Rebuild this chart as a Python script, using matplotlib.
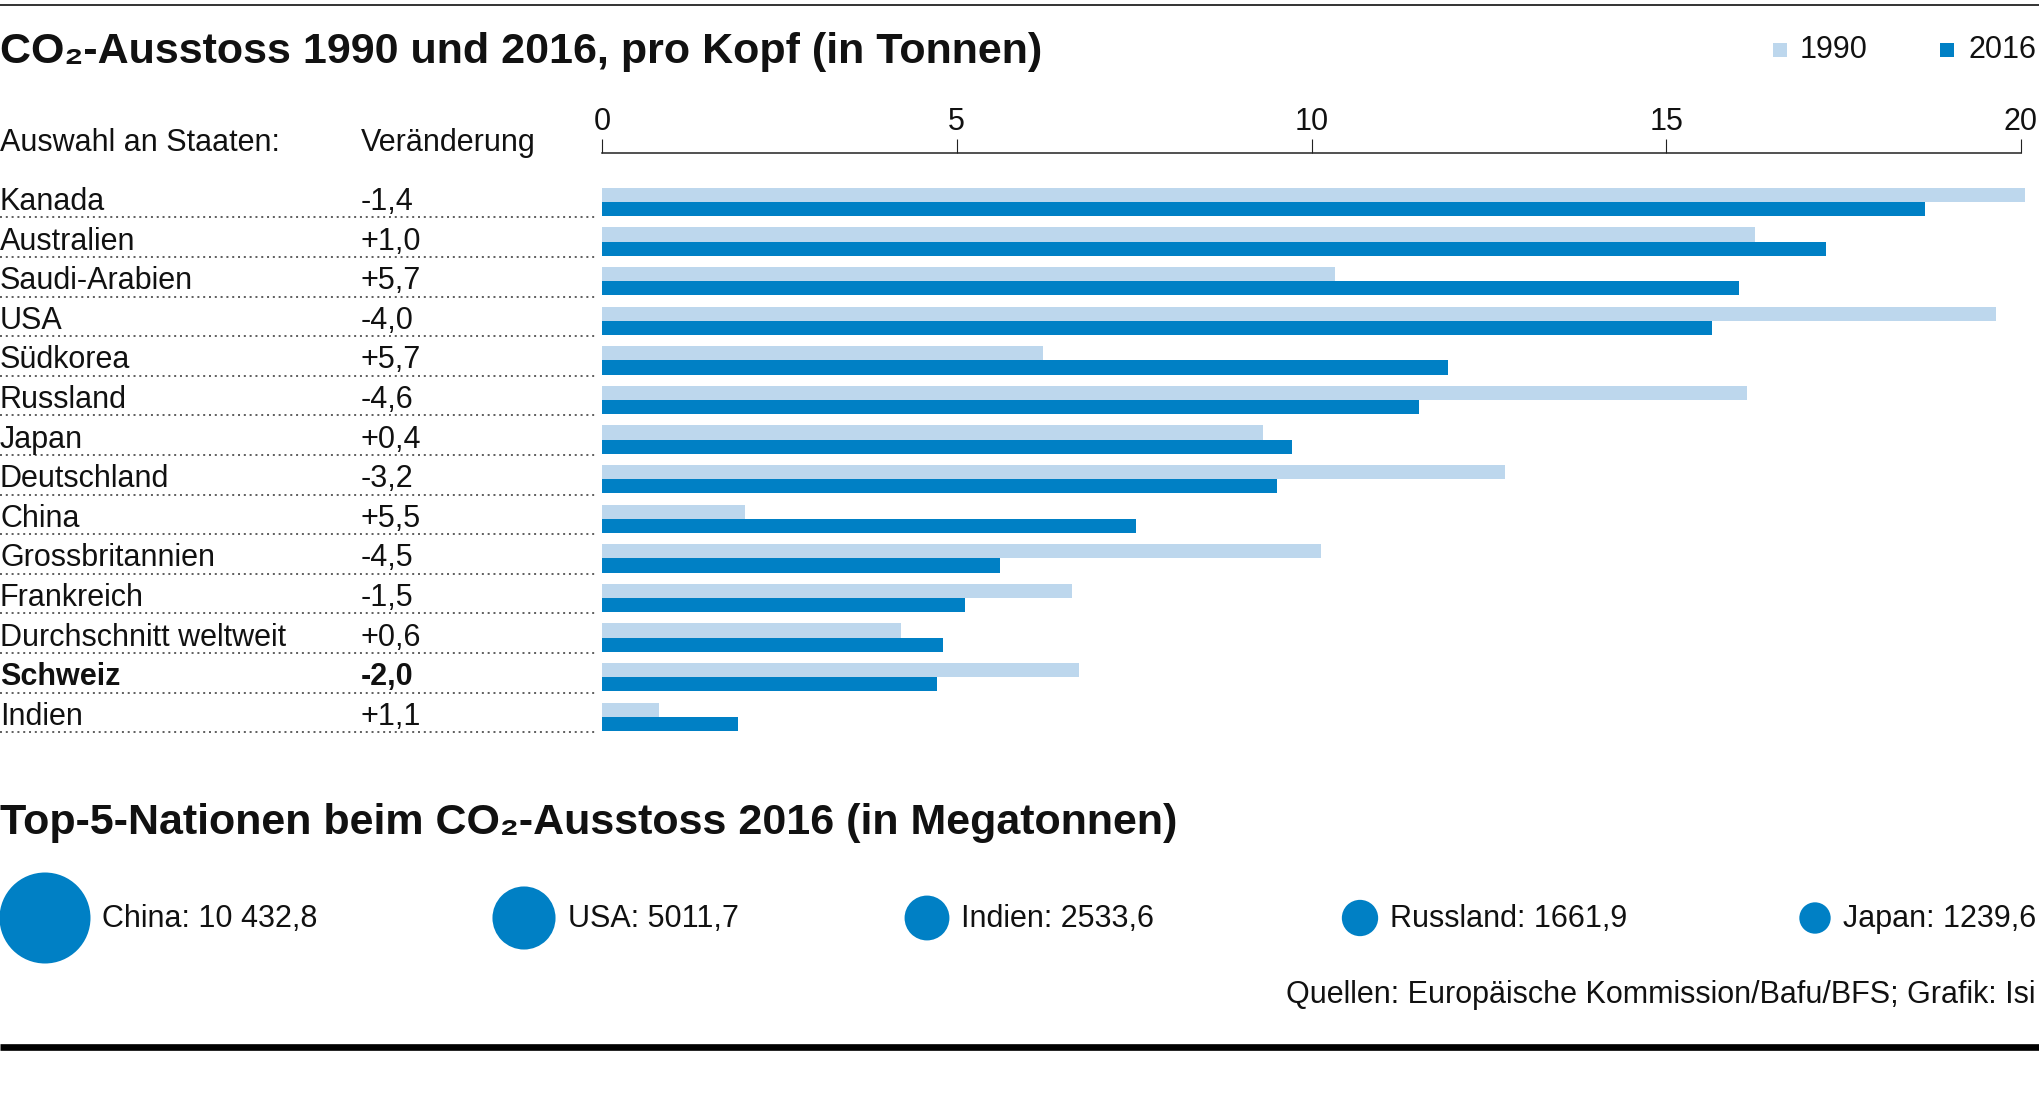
import numpy as np
import matplotlib
matplotlib.use("Agg")
import matplotlib.pyplot as plt
from matplotlib.transforms import blended_transform_factory

# per-capita data (tonnes)
countries = ["Kanada", "Australien", "Saudi-Arabien", "USA", "Südkorea", "Russland",
             "Japan", "Deutschland", "China", "Grossbritannien", "Frankreich",
             "Durchschnitt weltweit", "Schweiz", "Indien"]
co2_1990 = [20.05, 16.25, 10.33, 19.65, 6.22, 16.14, 9.32, 12.73, 2.01, 10.13, 6.62, 4.22, 6.72, 0.81]
co2_2016 = [18.65, 17.25, 16.03, 15.65, 11.93, 11.52, 9.72, 9.52, 7.52, 5.61, 5.12, 4.81, 4.72, 1.91]
change = [-1.4, 1.0, 5.7, -4.0, 5.7, -4.6, 0.4, -3.2, 5.5, -4.5, -1.5, 0.6, -2.0, 1.1]
highlight = "Schweiz"
x_ticks = [0, 5, 10, 15, 20]

# top 5 total emissions (megatonnes)
top5_names = ["China", "USA", "Indien", "Russland", "Japan"]
top5_mt = [10432.8, 5011.7, 2533.6, 1661.9, 1239.6]

LIGHT = "#bdd7ed"
DARK = "#0080c5"
TXT = "#111111"

plt.rcParams['font.family'] = ['Liberation Sans', 'DejaVu Sans']

W, H = 2039, 1094
fig = plt.figure(figsize=(W / 100, H / 100), dpi=100)

# overlay in pixel coordinates for text and rules
ov = fig.add_axes([0, 0, 1, 1])
ov.set_xlim(0, W)
ov.set_ylim(H, 0)
ov.axis('off')

# bar axes
ax_top, ax_bot, x0_px, x20_px = 153, 740, 602, 2021
row0, row_px = 202, 39.6
ax = fig.add_axes([x0_px / W, 1 - ax_bot / H, (W - x0_px) / W, (ax_bot - ax_top) / H])
ax.patch.set_alpha(0)
ax.set_xlim(0, 20 * (W - x0_px) / (x20_px - x0_px))
ax.set_ylim((ax_bot - row0) / row_px, (ax_top - row0) / row_px)

rows = np.arange(len(countries))
ax.barh(rows - 0.18, co2_1990, height=0.36, color=LIGHT, linewidth=0)
ax.barh(rows + 0.18, co2_2016, height=0.36, color=DARK, linewidth=0)

for s in ['left', 'right', 'bottom']:
    ax.spines[s].set_visible(False)
ax.spines['top'].set_bounds(0, 20)
ax.spines['top'].set_linewidth(1.1)
ax.spines['top'].set_color('#222222')
ax.xaxis.set_ticks_position('top')
ax.set_xticks(x_ticks)
ax.set_xticklabels([str(t) for t in x_ticks])
ax.tick_params(axis='x', direction='out', length=10, width=0.8, pad=1.5,
               labelsize=22, colors='#222222', labelcolor=TXT)
ax.set_yticks([])

# row labels, change column and dotted separators
trans = blended_transform_factory(ov.transData, ax.transData)
for i, (name, d) in enumerate(zip(countries, change)):
    weight = 'bold' if name == highlight else 'normal'
    txt = ("+" if d > 0 else "-") + f"{abs(d):.1f}".replace(".", ",")
    ov.text(0, i + 0.2, name, transform=trans, fontsize=22, color=TXT,
            va='baseline', ha='left', fontweight=weight)
    ov.text(361, i + 0.2, txt, transform=trans, fontsize=22, color=TXT,
            va='baseline', ha='left', fontweight=weight)
ov.hlines(rows + 0.39, 0, 596, transform=trans, colors='#333333',
          linewidth=1.1, linestyles=(0, (1.3, 2.5)))

# header texts
ov.plot([0, W], [5, 5], color='#333333', lw=1.4, solid_capstyle='butt')
ov.text(0, 63, "CO₂-Ausstoss 1990 und 2016, pro Kopf (in Tonnen)", fontsize=31,
        fontweight='bold', color=TXT, va='baseline', ha='left')
ov.text(0, 151, "Auswahl an Staaten:", fontsize=22, color=TXT, va='baseline')
ov.text(361, 151, "Veränderung", fontsize=22, color=TXT, va='baseline')

# legend
ov.scatter([1780], [50], marker='s', s=(14 * 0.72) ** 2, color=LIGHT, linewidths=0)
ov.text(1800, 58, "1990", fontsize=22, color=TXT, va='baseline')
ov.scatter([1947], [50], marker='s', s=(14 * 0.72) ** 2, color=DARK, linewidths=0)
ov.text(1969, 58, "2016", fontsize=22, color=TXT, va='baseline')

# top 5 bubbles
ov.text(0, 834, "Top-5-Nationen beim CO₂-Ausstoss 2016 (in Megatonnen)", fontsize=31,
        fontweight='bold', color=TXT, va='baseline', ha='left')


def fmt_mt(v):
    s = f"{v:,.1f}".replace(",", " ").replace(".", ",")
    if v < 10000:
        s = s.replace(" ", "")
    return s


bubble_x = [45, 524, 927, 1360, 1815]
r_max = 45.5
radii = [r_max * np.sqrt(v / max(top5_mt)) for v in top5_mt]
sizes = [(2 * r * 0.72) ** 2 for r in radii]
ov.scatter(bubble_x, [918] * len(top5_mt), s=sizes, color=DARK, linewidths=0)
for bx, r, name, v in zip(bubble_x, radii, top5_names, top5_mt):
    ov.text(bx + r + 12, 927, f"{name}: {fmt_mt(v)}", fontsize=22, color=TXT,
            va='baseline', ha='left')

ov.text(2036, 1003, "Quellen: Europäische Kommission/Bafu/BFS; Grafik: Isi", fontsize=22,
        color=TXT, va='baseline', ha='right')
ov.plot([0, W], [1047, 1047], color='black', lw=4.8, solid_capstyle='butt')

fig.savefig("out.png", dpi=100)
